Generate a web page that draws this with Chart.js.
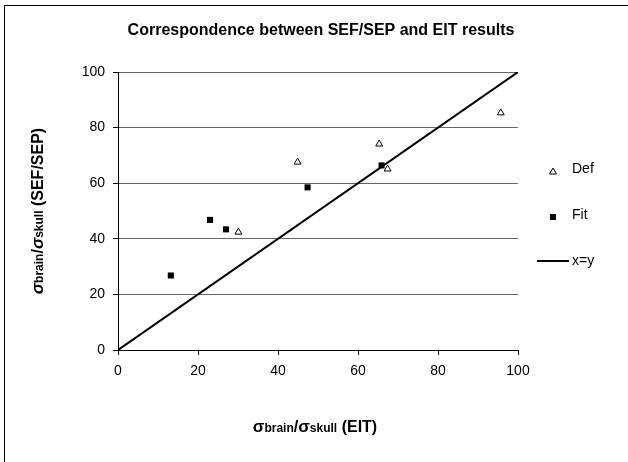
<!DOCTYPE html>
<html>
<head>
<meta charset="utf-8">
<script src="https://cdn.jsdelivr.net/npm/chart.js@4"></script>
<style>
  body { margin: 0; background: #fff; }
  #wrap { width: 628px; height: 462px; }
</style>
</head>
<body>
<div id="wrap"><canvas id="myChart"></canvas></div>
<script>
// values
var defX = [30.1, 44.9, 65.3, 67.4, 95.7];
var defY = [42.4, 67.6, 74.1, 65.1, 85.3];
var fitX = [13.2, 23.0, 27.0, 47.4, 65.9];
var fitY = [26.8, 46.8, 43.4, 58.5, 66.4];
var lineX = [0, 100];
var lineY = [0, 100];
var yTicks = [0, 20, 40, 60, 80, 100];
var xTicks = [0, 20, 40, 60, 80, 100];
var chartTitle = 'Correspondence between SEF/SEP and EIT results';

function pts(xs, ys) {
    return xs.map(function(x, i){ return {x: x, y: ys[i]}; });
}

var FONT = "'Liberation Sans', Arial, sans-serif";

// draw a row of text pieces with different fonts, centred on 0
function richText(ctx, parts, baseline) {
    var total = 0;
    parts.forEach(function(p){ ctx.font = p.font; p.w = ctx.measureText(p.text).width; total += p.w; });
    var x = -total / 2;
    parts.forEach(function(p){
        ctx.font = p.font;
        ctx.fillText(p.text, x, baseline);
        x += p.w;
    });
}

var extras = {
    id: 'extras',
    beforeDraw: function(chart) {
        var ctx = chart.ctx;
        ctx.save();
        ctx.strokeStyle = '#000';
        ctx.lineWidth = 1;
        ctx.strokeRect(4.5, 5.5, 700, 700);
        ctx.restore();
    },
    afterDraw: function(chart) {
        var ctx = chart.ctx;
        var area = chart.chartArea;
        ctx.save();
        ctx.fillStyle = '#000';
        ctx.textBaseline = 'alphabetic';

        // title
        ctx.textAlign = 'center';
        ctx.font = 'bold 16px ' + FONT;
        ctx.fillText(chartTitle, 321, 35);
        ctx.textAlign = 'left';

        // x axis title
        ctx.save();
        ctx.translate(315, 0);
        richText(ctx, [
            {text: '\u03c3', font: 'bold 17px ' + FONT},
            {text: 'brain', font: 'bold 12px ' + FONT},
            {text: '/', font: 'bold 16px ' + FONT},
            {text: '\u03c3', font: 'bold 17px ' + FONT},
            {text: 'skull', font: 'bold 12px ' + FONT},
            {text: ' (EIT)', font: 'bold 16px ' + FONT}
        ], 432);
        ctx.restore();

        // y axis title, read bottom to top, centred on the plot
        ctx.save();
        ctx.translate(30, (area.top + area.bottom) / 2);
        ctx.rotate(-Math.PI / 2);
        richText(ctx, [
            {text: '\u03c3', font: 'italic bold 17px ' + FONT},
            {text: 'brain', font: 'bold 12px ' + FONT},
            {text: '/', font: 'bold 16px ' + FONT},
            {text: '\u03c3', font: 'italic bold 17px ' + FONT},
            {text: 'skull', font: 'bold 12px ' + FONT},
            {text: ' (SEF/SEP)', font: 'bold 16px ' + FONT}
        ], 13);
        ctx.restore();

        // legend
        var rows = [169, 215, 261];
        ctx.font = '14px ' + FONT;
        ctx.textBaseline = 'middle';
        chart.data.datasets.forEach(function(ds, i) {
            var y = rows[i];
            ctx.fillStyle = '#000';
            ctx.fillText(ds.label, 572, y);
            ctx.strokeStyle = '#000';
            ctx.lineWidth = 1;
            if (ds.pointStyle === 'triangle') {
                var cy = y + 3;
                ctx.beginPath();
                ctx.moveTo(553, cy - 4);
                ctx.lineTo(556.5, cy + 2);
                ctx.lineTo(549.5, cy + 2);
                ctx.closePath();
                ctx.fillStyle = '#fff';
                ctx.fill();
                ctx.stroke();
            } else if (ds.pointStyle === 'rect') {
                ctx.fillStyle = '#000';
                ctx.fillRect(550, y - 1, 6, 6);
            } else {
                ctx.lineWidth = 2;
                ctx.beginPath();
                ctx.moveTo(537, y);
                ctx.lineTo(569, y);
                ctx.stroke();
            }
        });
        ctx.restore();
    }
};

var ctx = document.getElementById('myChart');
var myChart = new Chart(ctx, {
    type: 'scatter',
    data: {
        datasets: [
            {
                label: 'Def',
                data: pts(defX, defY),
                pointStyle: 'triangle',
                pointRadius: 4,
                pointBackgroundColor: '#fff',
                pointBorderColor: '#000',
                pointBorderWidth: 1
            },
            {
                label: 'Fit',
                data: pts(fitX, fitY),
                pointStyle: 'rect',
                pointRadius: 4.3,
                pointBackgroundColor: '#000',
                pointBorderColor: '#000',
                pointBorderWidth: 0
            },
            {
                label: 'x=y',
                data: pts(lineX, lineY),
                showLine: true,
                pointStyle: 'line',
                pointRadius: 0,
                borderColor: '#000',
                borderWidth: 2,
                fill: false
            }
        ]
    },
    plugins: [extras],
    options: {
        responsive: true,
        maintainAspectRatio: false,
        animation: false,
        layout: { padding: { left: 0, right: 110, top: 72, bottom: 0 } },
        plugins: {
            legend: { display: false },
            tooltip: { enabled: false },
            title: { display: false }
        },
        scales: {
            x: {
                type: 'linear',
                min: 0,
                max: 100,
                afterFit: function(scale){ scale.height = 112; },
                afterBuildTicks: function(scale){ scale.ticks = xTicks.map(function(v){ return {value: v}; }); },
                ticks: { color: '#000', font: { family: FONT, size: 14 }, padding: 8, maxRotation: 0 },
                grid: { drawOnChartArea: false, drawTicks: true, tickLength: 5, color: '#000' },
                border: { color: '#000', width: 1 }
            },
            y: {
                type: 'linear',
                min: 0,
                max: 100,
                afterFit: function(scale){ scale.width = 118; },
                afterBuildTicks: function(scale){ scale.ticks = yTicks.map(function(v){ return {value: v}; }); },
                ticks: { color: '#000', font: { family: FONT, size: 14 }, padding: 8 },
                grid: { color: '#666', tickColor: '#000', drawTicks: true, tickLength: 5 },
                border: { color: '#000', width: 1 }
            }
        }
    }
});
</script>
</body>
</html>
